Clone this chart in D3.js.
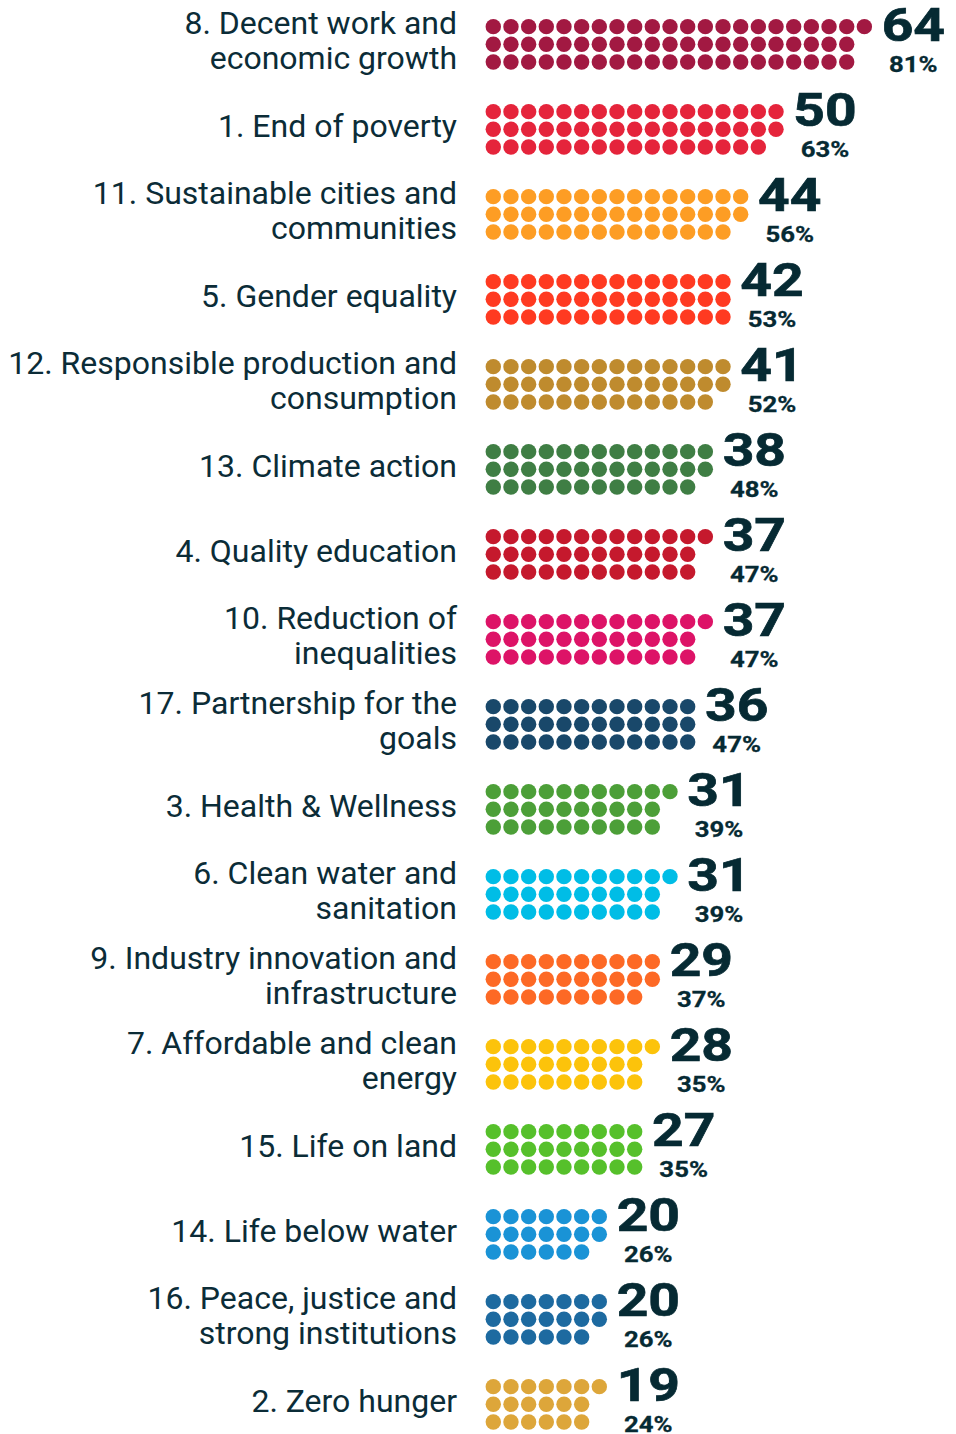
<!DOCTYPE html>
<html>
<head>
<meta charset="utf-8">
<script src="https://cdn.jsdelivr.net/npm/d3@7"></script>
<style>
  body { margin: 0; background: #fff; }
  text { font-family: Roboto, "Noto Sans", sans-serif; }
</style>
</head>
<body>
<div id="chart"></div>
<script>
var svgWidth = 956;
var svgHeight = 1434;

// goals, sorted by number of mentions
var labels = [
  "8. Decent work and\neconomic growth",
  "1. End of poverty",
  "11. Sustainable cities and\ncommunities",
  "5. Gender equality",
  "12. Responsible production and\nconsumption",
  "13. Climate action",
  "4. Quality education",
  "10. Reduction of\ninequalities",
  "17. Partnership for the\ngoals",
  "3. Health & Wellness",
  "6. Clean water and\nsanitation",
  "9. Industry innovation and\ninfrastructure",
  "7. Affordable and clean\nenergy",
  "15. Life on land",
  "14. Life below water",
  "16. Peace, justice and\nstrong institutions",
  "2. Zero hunger"
];
var counts = [64, 50, 44, 42, 41, 38, 37, 37, 36, 31, 31, 29, 28, 27, 20, 20, 19];
var percents = [81, 63, 56, 53, 52, 48, 47, 47, 47, 39, 39, 37, 35, 35, 26, 26, 24];
var colors = ["#a21942", "#e5243b", "#fd9d24", "#ff3a21", "#bf8b2e", "#3f7e44",
  "#c5192d", "#dd1367", "#19486a", "#4c9f38", "#00bde6", "#fd6925",
  "#fcc30b", "#56c02b", "#1a93d6", "#1d6aa0", "#dda63a"];

var data = labels.map(function(l, i) {
  return { label: l, count: counts[i], pct: percents[i], color: colors[i] };
});

var svg = d3.select("#chart")
  .append("svg")
  .attr("width", svgWidth)
  .attr("height", svgHeight);

// one row per goal
var yScale = d3.scalePoint()
  .domain(labels)
  .range([44.3, 1404.3]);

// dot columns and the 3 dot rows
var step = 17.67;
var xDot = d3.scaleLinear().domain([0, 1]).range([493.3, 493.3 + step]);
var yDot = d3.scaleLinear().domain([0, 2]).range([-step, step]);
var textColor = "#0b2c37";
var numColor = "#062a33";

var rows = svg.selectAll("g.row")
  .data(data)
  .enter()
  .append("g")
  .attr("class", "row")
  .attr("transform", d => `translate(0, ${yScale(d.label)})`);

// labels, right aligned, one or two lines
rows.append("text")
  .attr("text-anchor", "end")
  .attr("fill", textColor)
  .attr("font-size", "32px")
  .each(function(d) {
    var lines = d.label.split("\n");
    var y0 = 7.6 - (lines.length - 1) * 17.5;
    d3.select(this).selectAll("tspan")
      .data(lines)
      .enter()
      .append("tspan")
      .attr("x", 457)
      .attr("y", (l, j) => y0 + j * 35)
      .text(l => l);
  });

// dots, filled column by column
rows.each(function(d) {
  d3.select(this).selectAll("circle")
    .data(d3.range(d.count))
    .enter()
    .append("circle")
    .attr("cx", k => xDot(Math.floor(k / 3)))
    .attr("cy", k => yDot(k % 3))
    .attr("r", 7.7)
    .attr("fill", d.color);
});

// count and percent, next to the last column
function numCenter(d) {
  return xDot(Math.ceil(d.count / 3) - 1) + 49;
}

rows.append("text")
  .attr("transform", d => `translate(${numCenter(d)}, -3) scale(1.2, 1)`)
  .attr("text-anchor", "middle")
  .attr("font-size", "46px")
  .attr("font-weight", 700)
  .attr("fill", numColor)
  .attr("stroke", numColor)
  .attr("stroke-width", 0.7)
  .text(d => d.count);

rows.append("text")
  .attr("transform", d => `translate(${numCenter(d)}, 27.5) scale(1.12, 1)`)
  .attr("text-anchor", "middle")
  .attr("font-size", "23px")
  .attr("font-weight", 700)
  .attr("fill", numColor)
  .attr("stroke", numColor)
  .attr("stroke-width", 0.3)
  .text(d => d.pct + "%");
</script>
</body>
</html>
